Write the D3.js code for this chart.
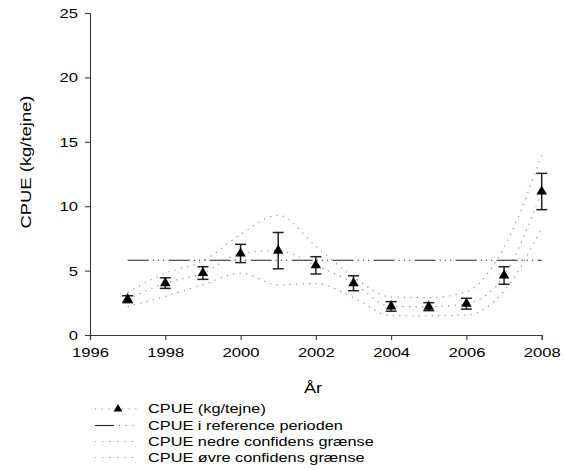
<!DOCTYPE html>
<html>
<head>
<meta charset="utf-8">
<script src="https://cdn.jsdelivr.net/npm/d3@7"></script>
<style>
  html, body { margin: 0; padding: 0; background: #fff; }
  svg { display: block; font-family: "Liberation Sans", Arial, sans-serif; }
</style>
</head>
<body>
<svg id="chart" width="565" height="470"></svg>
<script>
// ---- data ----
const years      = [1997, 1998, 1999, 2000, 2001, 2002, 2003, 2004, 2005, 2006, 2007, 2008];
const cpue       = [2.78, 4.03, 4.81, 6.33, 6.55, 5.41, 4.02, 2.22, 2.20, 2.43, 4.62, 11.14];
const cpueErr    = [0.27, 0.41, 0.49, 0.71, 1.41, 0.67, 0.58, 0.37, 0.31, 0.42, 0.68, 1.41];
const refLevel   = [5.8, 5.8];
const refYears   = [1997, 2008];
const lowerCI    = [2.2, 3.0, 3.9, 4.8, 3.9, 4.0, 2.9, 1.5, 1.5, 1.55, 3.4, 8.3];
const upperCI    = [3.3, 4.8, 5.75, 7.8, 9.3, 6.9, 4.5, 2.95, 2.9, 3.35, 6.8, 14.0];
const xTicks     = [1996, 1998, 2000, 2002, 2004, 2006, 2008];
const yTicks     = [0, 5, 10, 15, 20, 25];
const legendLabels = [
  "CPUE (kg/tejne)",
  "CPUE i reference perioden",
  "CPUE nedre confidens grænse",
  "CPUE øvre confidens grænse"
];

// ---- layout ----
const svg = d3.select("#chart");
const L = 90, R = 541.7, T = 13, B = 335;
const x = d3.scaleLinear().domain([1996, 2008]).range([L, R]);
const y = d3.scaleLinear().domain([0, 25]).range([B, T]);
const axisColor = "#3a3a3a";
const dotColor = "#8a8a8a";
const dotDash = "1.2,5.3";
const refDash = "21,4,1.2,4,1.2,4,1.2,4.4";

// ---- axes ----
const gx = svg.append("g").attr("transform", `translate(0,${B})`)
  .call(d3.axisBottom(x).tickValues(xTicks).tickFormat(d3.format("d")).tickSizeOuter(0).tickSize(5).tickPadding(0));
const gy = svg.append("g").attr("transform", `translate(${L},0)`)
  .call(d3.axisLeft(y).tickValues(yTicks).tickSizeOuter(0).tickSize(5));
[gx, gy].forEach(g => {
  g.select(".domain").attr("stroke", axisColor).attr("stroke-width", 1.1);
  g.selectAll(".tick line").attr("stroke", axisColor).attr("stroke-width", 1.1);
});
gx.selectAll(".tick text")
  .attr("font-size", 12.5).attr("fill", "#000")
  .attr("dy", null).attr("y", 22)
  .attr("transform", "scale(1.33,1)");
gy.selectAll(".tick text")
  .attr("font-size", 12.5).attr("fill", "#000")
  .attr("x", -12 / 1.33).attr("dy", "0.36em")
  .attr("transform", "scale(1.33,1)");

// axis titles
svg.append("text")
  .attr("transform", `translate(313,393) scale(1.3,1)`)
  .attr("text-anchor", "middle").attr("font-size", 14).attr("fill", "#000")
  .text("År");
svg.append("text")
  .attr("transform", `translate(31,162) rotate(-90)`)
  .attr("text-anchor", "middle").attr("font-size", 14).attr("fill", "#000")
  .attr("textLength", 133).attr("lengthAdjust", "spacingAndGlyphs")
  .text("CPUE (kg/tejne)");

// ---- lines ----
const lineGen = arr => d3.line().curve(d3.curveMonotoneX)
  .x((d, i) => x(years[i])).y(d => y(d))(arr);

svg.append("path").attr("d", lineGen(upperCI))
  .attr("fill", "none").attr("stroke", dotColor).attr("stroke-width", 1.1).attr("stroke-dasharray", dotDash);
svg.append("path").attr("d", lineGen(lowerCI))
  .attr("fill", "none").attr("stroke", dotColor).attr("stroke-width", 1.1).attr("stroke-dasharray", dotDash);
svg.append("path").attr("d", lineGen(cpue))
  .attr("fill", "none").attr("stroke", dotColor).attr("stroke-width", 1.1).attr("stroke-dasharray", dotDash);

// reference line
svg.append("path")
  .attr("d", d3.line().x((d, i) => x(refYears[i])).y(d => y(d))(refLevel))
  .attr("fill", "none").attr("stroke", "#222").attr("stroke-width", 1.1).attr("stroke-dasharray", refDash);

// error bars
const eb = svg.append("g").attr("stroke", "#222").attr("stroke-width", 1.5);
years.forEach((yr, i) => {
  const cx = x(yr), top = y(cpue[i] + cpueErr[i]), bot = y(cpue[i] - cpueErr[i]);
  eb.append("line").attr("x1", cx).attr("x2", cx).attr("y1", top).attr("y2", bot);
  eb.append("line").attr("x1", cx - 5.5).attr("x2", cx + 5.5).attr("y1", top).attr("y2", top);
  eb.append("line").attr("x1", cx - 5.5).attr("x2", cx + 5.5).attr("y1", bot).attr("y2", bot);
});

// markers
svg.append("g").selectAll("path").data(cpue).join("path")
  .attr("transform", (d, i) => `translate(${x(years[i])},${y(d)})`)
  .attr("d", d3.symbol().type(d3.symbolTriangle).size(48))
  .attr("fill", "#000");

// ---- legend ----
const lg = svg.append("g");
const rowY = [409, 425.5, 441.5, 457.5];
const lx0 = 95, lx1 = 137;
// row 1
lg.append("line").attr("x1", lx0).attr("x2", lx1).attr("y1", rowY[0]).attr("y2", rowY[0])
  .attr("stroke", dotColor).attr("stroke-width", 1.1).attr("stroke-dasharray", "1.2,5.5");
lg.append("path").attr("transform", `translate(118,${rowY[0]})`)
  .attr("d", d3.symbol().type(d3.symbolTriangle).size(34)).attr("fill", "#000");
// row 2
lg.append("line").attr("x1", lx0).attr("x2", 114).attr("y1", rowY[1]).attr("y2", rowY[1])
  .attr("stroke", "#222").attr("stroke-width", 1.1);
lg.append("line").attr("x1", 119).attr("x2", lx1).attr("y1", rowY[1]).attr("y2", rowY[1])
  .attr("stroke", dotColor).attr("stroke-width", 1.1).attr("stroke-dasharray", "1.2,5.5");
// rows 3,4
[2, 3].forEach(r => {
  lg.append("line").attr("x1", lx0).attr("x2", lx1).attr("y1", rowY[r]).attr("y2", rowY[r])
    .attr("stroke", "#a0a0a0").attr("stroke-width", 1).attr("stroke-dasharray", "1.2,6.2");
});
legendLabels.forEach((t, i) => {
  lg.append("text")
    .attr("transform", `translate(148,${rowY[i] + 4.3}) scale(1.36,1)`)
    .attr("font-size", 12).attr("fill", "#000")
    .text(t);
});
</script>
</body>
</html>
